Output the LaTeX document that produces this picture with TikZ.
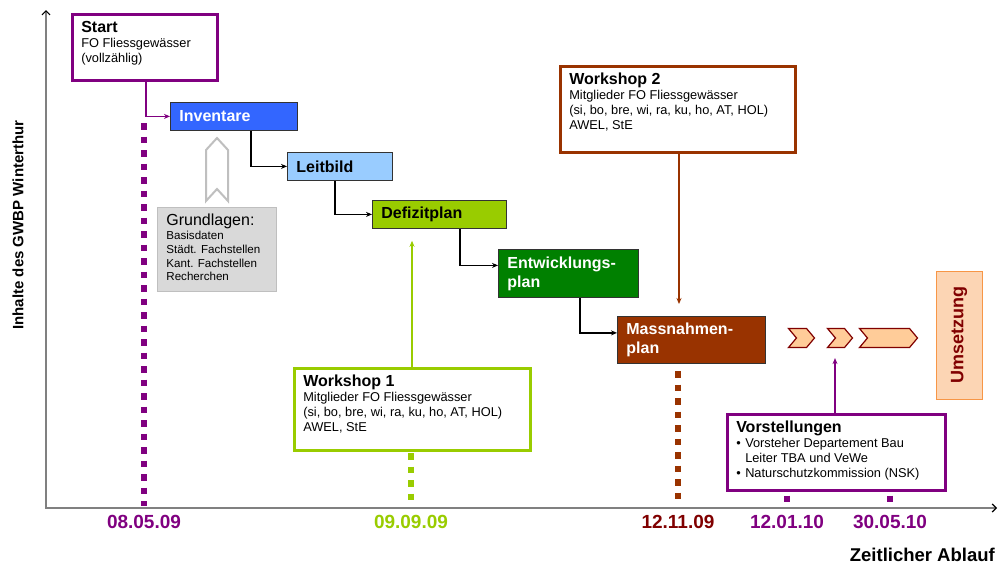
\documentclass[tikz,border=0pt]{standalone}
\usepackage{fontspec}
\setmainfont{Liberation Sans}
\usepackage{xcolor}
\usepackage{tikz}
\usetikzlibrary{arrows.meta,shapes.symbols}

\definecolor{lila}{HTML}{800080}
\definecolor{blau}{HTML}{3366FF}
\definecolor{hellblau}{HTML}{99CCFF}
\definecolor{gelbgruen}{HTML}{99CC00}
\definecolor{gruen}{HTML}{008000}
\definecolor{braun}{HTML}{993300}
\definecolor{dunkelrot}{HTML}{800000}
\definecolor{pfirsich}{HTML}{FFCC99}
\definecolor{hellorange}{HTML}{FCD5B4}
\definecolor{orangerand}{HTML}{F79646}
\definecolor{grau}{HTML}{D9D9D9}

\newcommand{\hdfont}{\fontsize{16}{19}\selectfont}
\newcommand{\txfont}{\fontsize{12.8}{15}\selectfont}
\newcommand{\smfont}{\fontsize{11.6}{13.7}\selectfont}
\newcommand{\dtfont}{\fontsize{19}{22}\selectfont}
\newcommand{\ylfont}{\fontsize{15}{18}\selectfont}
\newcommand{\umfont}{\fontsize{18}{21}\selectfont}

\begin{document}
\begin{tikzpicture}[x=1pt,y=-1pt,
    panel/.style={draw=#1,line width=2.5pt,fill=white,anchor=north west,inner xsep=9pt,inner ysep=7pt},
    stage/.style={draw=black!80,line width=0.8pt,anchor=north west,inner xsep=9pt,inner ysep=0pt,align=left,font=\hdfont\bfseries},
    link/.style={line width=1.5pt,-{Stealth[length=6pt,width=5pt]}},
    dotline/.style={line width=6pt,dash pattern=on 6.5pt off 7pt},
    chev/.style={signal,signal to=east,signal from=west,signal pointer angle=100,draw=dunkelrot,fill=pfirsich,line width=1.2pt,inner sep=0pt,minimum height=19pt},
    datum/.style={font=\dtfont\bfseries,text=#1}]
\useasboundingbox (0,0) rectangle (999,565);

\draw[black!50,line width=1.2pt,{Straight Barb[black,length=4pt,width=8pt]}-{Straight Barb[black,length=4pt,width=8pt]}] (46,10) -- (46,508) -- (997,508);
\node[rotate=90,font=\ylfont\bfseries] (ylab) at (18,225) {Inhalte des GWBP Winterthur};
\node[anchor=east,inner sep=0pt,font=\fontsize{18.5}{21}\selectfont\bfseries] (xlab) at (995,555) {Zeitlicher Ablauf};

\node[datum=lila] (d1) at (144,522) {08.05.09};
\node[datum=gelbgruen] (d2) at (411,522) {09.09.09};
\node[datum=dunkelrot] (d3) at (678,522) {12.11.09};
\node[datum=lila] (d4) at (787,522) {12.01.10};
\node[datum=lila] (d5) at (890,522) {30.05.10};

\draw[dotline,lila] (d1 |- 0,123) -- (d1 |- 0,506);
\draw[dotline,gelbgruen] (d2 |- 0,453) -- (d2 |- 0,501);
\draw[dotline,braun] (d3 |- 0,371) -- (d3 |- 0,505);
\draw[dotline,lila] (d4 |- 0,495.5) -- (d4 |- 0,502);
\draw[dotline,lila] (d5 |- 0,495.5) -- (d5 |- 0,502);

\node[panel=lila] (start) at (71,13) {\parbox[c][52pt][t]{127pt}{\txfont{\hdfont\bfseries Start}\\FO Fliessgewässer\\(vollzählig)}};

\node[stage,fill=blau,text=white,minimum height=28pt,text width=109pt] (inv) at (170,102) {Inventare};
\node[stage,fill=hellblau,minimum height=28pt,text width=87pt] (leit) at (287,152) {Leitbild};
\node[stage,fill=gelbgruen,minimum height=28pt,text width=116pt] (def) at (372,200) {Defizitplan};
\node[stage,fill=gruen,text=white,minimum height=48pt,text width=122pt] (entw) at (498,249) {Entwicklungs-\\plan};
\node[stage,fill=braun,text=white,minimum height=47pt,text width=130pt] (mass) at (617,316) {Massnahmen-\\plan};

\draw[link,lila,line width=1.2pt] ([xshift=75pt]start.south west) |- (inv.west);
\draw[link] ([xshift=81pt]inv.south west) |- (leit.west);
\draw[link] ([xshift=48pt]leit.south west) |- (def.west);
\draw[link] ([xshift=88pt]def.south west) |- ([yshift=8pt]entw.west);
\draw[link] ([xshift=82pt]entw.south west) |- ([yshift=7pt]mass.west);

\draw[black!25,line width=2pt,fill=white] (217,138) -- (228,150) -- (228,201) -- (217,189) -- (206,201) -- (206,150) -- cycle;
\node[draw=black!25,fill=grau,anchor=north west,inner xsep=9pt,inner ysep=7pt,line width=0.8pt] (grund) at (157,207) {\parbox[c][70pt][t]{101pt}{\smfont{\hdfont Grundlagen:}\\Basisdaten\\Städt. Fachstellen\\Kant. Fachstellen\\Recherchen}};

\node[panel=braun] (ws2) at (559,65) {\parbox[c][72pt][t]{217pt}{\txfont{\hdfont\bfseries Workshop 2}\\Mitglieder FO Fliessgewässer\\(si, bo, bre, wi, ra, ku, ho, AT, HOL)\\AWEL, StE}};
\node[panel=gelbgruen] (ws1) at (293,367) {\parbox[c][68pt][t]{218pt}{\txfont{\hdfont\bfseries Workshop 1}\\Mitglieder FO Fliessgewässer\\(si, bo, bre, wi, ra, ku, ho, AT, HOL)\\AWEL, StE}};

\coordinate (w2foot) at ([xshift=120pt]ws2.south west);
\draw[link,braun,line width=1.2pt,shorten >=12pt] (w2foot) -- (w2foot |- mass.north);
\coordinate (w1top) at ([xshift=119pt]ws1.north west);
\draw[link,gelbgruen,shorten >=12pt] (w1top) -- (w1top |- def.south);

\node[chev,minimum width=26pt] (ch1) at (801.5,338) {};
\node[chev,minimum width=25pt] (ch2) at (840,338) {};
\node[chev,minimum width=58pt] (ch3) at (888.5,338) {};

\node[panel=lila] (vor) at (726,413) {\parbox[c][62pt][t]{200pt}{\txfont{\hdfont\bfseries Vorstellungen}\\\makebox[9pt][l]{\textbullet}Vorsteher Departement Bau\\\hspace*{9pt}Leiter TBA und VeWe\\\makebox[9pt][l]{\textbullet}Naturschutzkommission (NSK)}};
\coordinate (vtop) at ([xshift=109pt]vor.north west);
\draw[link,lila,line width=1.2pt,shorten >=10pt] (vtop) -- (vtop |- ch2.south);

\node[draw=orangerand,fill=hellorange,line width=1pt,rotate=90,minimum width=128pt,minimum height=46pt,font=\umfont\bfseries,text=dunkelrot] (ums) at (959,335) {Umsetzung};
\end{tikzpicture}
\end{document}
